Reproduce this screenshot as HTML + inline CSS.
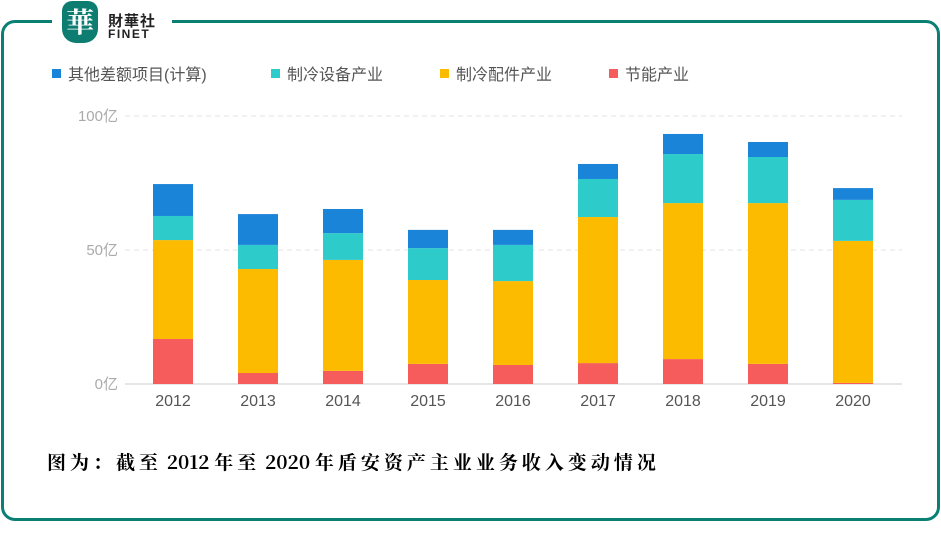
<!DOCTYPE html>
<html><head><meta charset="utf-8"><style>
body{margin:0;width:941px;height:541px;background:#fff;overflow:hidden;position:relative;font-family:"Liberation Sans","Noto Sans CJK SC",sans-serif}
#frame{position:absolute;left:1px;top:20px;width:933px;height:495px;border:3px solid #0a8075;border-radius:14px}
#logo{position:absolute;left:52px;top:0;width:120px;height:46px;background:#fff}
#logo .mark{position:absolute;left:10px;top:1px;width:36px;height:42px;background:#0d7d72;border-radius:10px 10px 14px 14px;color:#fff;font:bold 28px "Noto Serif CJK SC",serif;text-align:center;line-height:40px}
#logo .t1{position:absolute;left:56px;top:10px;font:bold 15px "Noto Sans CJK SC",sans-serif;color:#222;letter-spacing:1px}
#logo .t2{position:absolute;left:56px;top:27px;font:bold 12px "Liberation Sans",sans-serif;color:#222;letter-spacing:1.5px}
#caption{position:absolute;left:47px;top:448px;font:bold 19px "Noto Serif CJK SC","Liberation Serif",serif;color:#000;white-space:nowrap}
#caption .c{letter-spacing:4px}
</style></head><body>
<div id="frame"></div>
<div id="logo"><div class="mark">華</div><div class="t1">財華社</div><div class="t2">FINET</div></div>
<svg id="chart" width="941" height="541" style="position:absolute;left:0;top:0"></svg>
<div id="caption"><span class="c">图为：截至</span> 2012 <span class="c">年至</span> 2020 <span class="c">年盾安资产主业业务收入变动情况</span></div>
<script>
const years=['2012','2013','2014','2015','2016','2017','2018','2019','2020'];
const energySaving=[16.8,4.1,4.9,7.5,7.1,7.8,9.3,7.5,0.4];
const parts=[36.9,38.8,41.4,31.3,31.3,54.5,58.2,60,53];
const equipment=[9,9,10,11.9,13.5,14.2,18.3,17.2,15.3];
const other=[11.9,11.5,9,6.8,5.6,5.6,7.5,5.6,4.4];
const yTicks=[0,50,100];
const seriesNames=['其他差额项目(计算)','制冷设备产业','制冷配件产业','节能产业'];
const colors=['#1a84d8','#2ecbcb','#fdbb00','#f75c5c'];
const NS='http://www.w3.org/2000/svg';
const svg=document.getElementById('chart');
const y0=384,pxPer=2.68,x0=173,step=85,bw=40;
const yScale=v=>y0-v*pxPer;
const xScale=i=>x0+i*step;
function mk(t,a){const e=document.createElementNS(NS,t);for(const k in a)e.setAttribute(k,a[k]);svg.appendChild(e);return e;}
yTicks.forEach(v=>{
  const y=yScale(v);
  const l=mk('line',{x1:125,x2:902,y1:y,y2:y,stroke:v===0?'#ccc':'#e3e3e3','stroke-dasharray':v===0?'':'5,4'});
  
  
  const t=mk('text',{x:118,y:y+5,'text-anchor':'end','font-size':15,fill:'#aaa'});t.textContent=v+'亿';
  
  
});
const stack=[energySaving,parts,equipment,other];
const stackColors=[colors[3],colors[2],colors[1],colors[0]];
years.forEach((yr,i)=>{
  let base=0;
  stack.forEach((s,k)=>{
    const top=base+s[i];
    const r=mk('rect',{x:xScale(i)-bw/2,y:yScale(top),width:bw,height:yScale(base)-yScale(top),fill:stackColors[k]});
    
    
    base=top;
  });
  const t=mk('text',{x:xScale(i),y:406,'text-anchor':'middle','font-size':16,fill:'#555'});t.textContent=yr;
  
  
});
const lx=[52,271,440,609];
seriesNames.forEach((n,k)=>{
  const r=mk('rect',{x:lx[k],y:69,width:9,height:9,fill:colors[k]});
  
  
  const t=mk('text',{x:lx[k]+16,y:80,'font-size':16,fill:'#555'});t.textContent=n;
  
  
});
</script>
</body></html>
